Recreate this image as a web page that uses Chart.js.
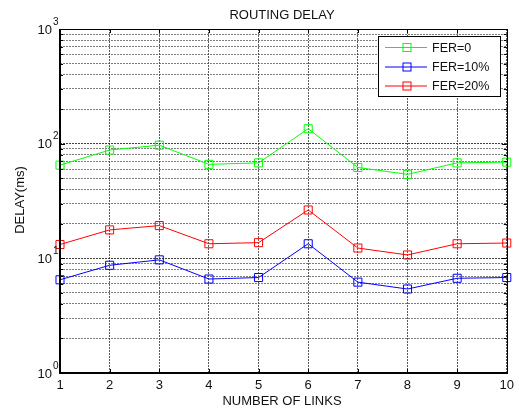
<!DOCTYPE html>
<html>
<head>
<meta charset="utf-8">
<title>Routing delay</title>
<script src="https://cdn.jsdelivr.net/npm/chart.js@4/dist/chart.umd.min.js"></script>
<style>
  html, body { margin: 0; padding: 0; background: #fff; }
  #wrap { width: 519px; height: 411px; }
</style>
</head>
<body>
<div id="wrap"><canvas id="delay-chart" width="519" height="411"></canvas></div>
<script>
// values
const links = ['1', '2', '3', '4', '5', '6', '7', '8', '9', '10'];
const fer0 = [65, 88, 97, 66, 68, 135, 62, 54, 68, 69];
const fer10 = [6.5, 8.7, 9.7, 6.6, 6.8, 13.4, 6.2, 5.4, 6.7, 6.8];
const fer20 = [13.2, 17.7, 19.3, 13.4, 13.7, 26.4, 12.3, 10.7, 13.4, 13.6];
const seriesNames = ['FER=0', 'FER=10%', 'FER=20%'];
const seriesColors = ['#00ff00', '#0000ff', '#ff0000'];
const decades = [1, 10, 100, 1000];

const font = '"Liberation Sans", Arial, sans-serif';

// every 1..9 step of each decade, like a matlab log grid
const logTicks = [];
decades.forEach(d => {
  for (let m = 1; m <= 9; m++) {
    if (d * m <= 1000) logTicks.push(d * m);
  }
});

function isDecade(v) {
  return decades.indexOf(v) !== -1;
}

function makeSet(i, data) {
  return {
    label: seriesNames[i],
    data: data,
    borderColor: seriesColors[i],
    borderWidth: 1,
    pointStyle: 'rect',
    pointRadius: 5.7,
    pointBorderColor: seriesColors[i],
    pointBackgroundColor: 'rgba(0,0,0,0)',
    pointBorderWidth: 1,
    tension: 0
  };
}

// frame, inward ticks, labels and the legend box
const matlabLook = {
  id: 'matlabLook',
  afterDraw(chart) {
    const ctx = chart.ctx;
    const a = chart.chartArea;
    const y = chart.scales.y;
    const x = chart.scales.x;
    ctx.save();
    ctx.setLineDash([]);
    ctx.strokeStyle = '#000';

    // inward ticks on left and right
    ctx.lineWidth = 1;
    logTicks.forEach(v => {
      const py = Math.round(y.getPixelForValue(v)) + 0.5;
      const len = isDecade(v) ? 5 : 3;
      ctx.beginPath();
      ctx.moveTo(a.left, py); ctx.lineTo(a.left + len, py);
      ctx.moveTo(a.right, py); ctx.lineTo(a.right - len, py);
      ctx.stroke();
    });
    links.forEach((l, i) => {
      const px = Math.round(x.getPixelForValue(i)) + 0.5;
      ctx.beginPath();
      ctx.moveTo(px, a.bottom); ctx.lineTo(px, a.bottom - 4);
      ctx.moveTo(px, a.top); ctx.lineTo(px, a.top + 4);
      ctx.stroke();
    });

    // axes box
    ctx.lineWidth = 1;
    ctx.strokeRect(Math.round(a.left) + 0.5, Math.round(a.top) + 0.5,
      Math.round(a.right - a.left), Math.round(a.bottom - a.top));
    ctx.lineWidth = 2;
    ctx.beginPath();
    ctx.moveTo(Math.round(a.left), a.top);
    ctx.lineTo(Math.round(a.left), Math.round(a.bottom));
    ctx.lineTo(a.right, Math.round(a.bottom));
    ctx.stroke();

    // y tick labels as 10 with a superscript power
    ctx.fillStyle = '#111';
    decades.forEach((v, p) => {
      const py = y.getPixelForValue(v);
      ctx.font = '13px ' + font;
      ctx.textAlign = 'right';
      ctx.textBaseline = 'middle';
      ctx.fillText('10', 52, py + 1);
      ctx.font = '10px ' + font;
      ctx.textAlign = 'left';
      ctx.fillText(String(p), 53, py - 7);
    });

    // title and axis titles
    ctx.font = '13px ' + font;
    ctx.textAlign = 'center';
    ctx.textBaseline = 'middle';
    ctx.fillText('ROUTING DELAY', 282, 15);
    ctx.fillText('NUMBER OF LINKS', 282, 401);
    ctx.save();
    ctx.translate(20, 200);
    ctx.rotate(-Math.PI / 2);
    ctx.fillText('DELAY(ms)', 0, 0);
    ctx.restore();

    // legend
    const lx = 378, ly = 36, lw = 122, lh = 60;
    ctx.fillStyle = '#fff';
    ctx.fillRect(lx, ly, lw, lh);
    ctx.lineWidth = 1;
    ctx.strokeStyle = '#000';
    ctx.strokeRect(lx + 0.5, ly + 0.5, lw, lh);
    const rows = [47.5, 67, 86];
    rows.forEach((ry, i) => {
      ctx.strokeStyle = seriesColors[i];
      ctx.beginPath();
      ctx.moveTo(385, ry); ctx.lineTo(427, ry);
      ctx.stroke();
      ctx.strokeRect(403, ry - 4, 8, 8);
      ctx.fillStyle = '#111';
      ctx.font = '12.5px ' + font;
      ctx.textAlign = 'left';
      ctx.textBaseline = 'middle';
      ctx.fillText(seriesNames[i], 432, ry + 1);
    });
    ctx.restore();
  }
};

new Chart(document.getElementById('delay-chart'), {
  type: 'line',
  data: {
    labels: links,
    datasets: [makeSet(0, fer0), makeSet(1, fer10), makeSet(2, fer20)]
  },
  options: {
    responsive: false,
    animation: false,
    devicePixelRatio: 1,
    layout: { padding: { top: 29, right: 12, bottom: 0, left: 0 } },
    plugins: {
      legend: { display: false },
      title: { display: false },
      tooltip: { enabled: false }
    },
    scales: {
      x: {
        type: 'category',
        offset: false,
        grid: {
          color: 'rgba(50,50,50,0.8)',
          lineWidth: 1,
          drawTicks: false
        },
        border: { display: false, dash: [2, 1] },
        ticks: {
          color: '#111',
          padding: 5,
          font: { family: font, size: 13 },
          maxRotation: 0
        },
        afterFit(scale) { scale.height = 38; }
      },
      y: {
        type: 'logarithmic',
        min: 1,
        max: 1000,
        afterBuildTicks(scale) {
          scale.ticks = logTicks.map(v => ({ value: v }));
        },
        grid: {
          color: ctx => (ctx.tick && isDecade(ctx.tick.value)) ? 'rgba(30,30,30,0.85)' : 'rgba(70,70,70,0.7)',
          lineWidth: 1,
          drawTicks: false
        },
        border: { display: false, dash: [2, 1] },
        ticks: { display: false },
        afterFit(scale) { scale.width = 60; }
      }
    }
  },
  plugins: [matlabLook]
});
</script>
</body>
</html>
